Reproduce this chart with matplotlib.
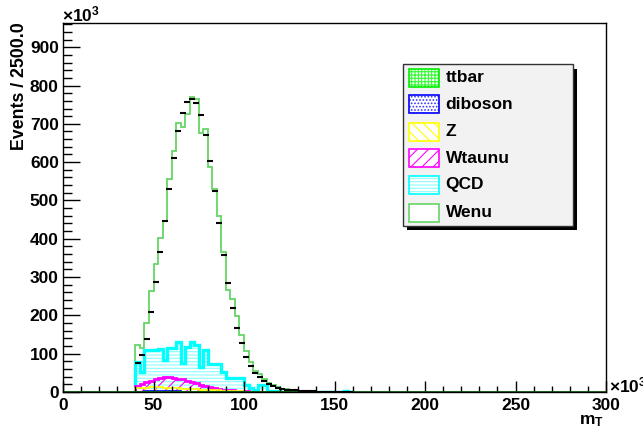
import numpy as np
import matplotlib.pyplot as plt
from matplotlib.patches import Rectangle
from matplotlib.ticker import MultipleLocator

plt.rcParams['font.family'] = ['Liberation Sans', 'DejaVu Sans']
plt.rcParams['font.weight'] = 'bold'
plt.rcParams['mathtext.fontset'] = 'custom'
plt.rcParams['mathtext.rm'] = 'Liberation Sans:bold'
plt.rcParams['mathtext.it'] = 'Liberation Sans:bold'
plt.rcParams['mathtext.bf'] = 'Liberation Sans:bold'
plt.rcParams['hatch.linewidth'] = 0.8

# m_T binning (x10^3), 2.5 wide, 40 -> 160
edges = np.arange(40.0, 160.01, 2.5)

ttbar = [0.8, 0.9, 1.0, 1.0, 1.1, 1.1, 1.1, 1.1, 1.1, 1.0, 1.0, 1.0, 0.9, 0.9, 0.8, 0.8,
         0.7, 0.7, 0.6, 0.6, 0.5, 0.5, 0.4, 0.4, 0.3, 0.3, 0.3, 0.2, 0.2, 0.2, 0.1, 0.1,
         0.1, 0.1, 0, 0, 0, 0, 0, 0, 0, 0, 0, 0, 0, 0, 0, 0]
diboson = [0.3, 0.3, 0.4, 0.4, 0.4, 0.4, 0.4, 0.4, 0.4, 0.4, 0.3, 0.3, 0.3, 0.3, 0.3, 0.2,
           0.2, 0.2, 0.2, 0.2, 0.1, 0.1, 0.1, 0.1, 0.1, 0, 0, 0, 0, 0, 0, 0,
           0, 0, 0, 0, 0, 0, 0, 0, 0, 0, 0, 0, 0, 0, 0, 0]
zjets = [8.9, 9.8, 9.6, 10.6, 10.5, 10.5, 9.5, 9.5, 8.5, 8.6, 7.7, 7.7, 6.8, 5.8, 4.9, 5.0,
         4.1, 3.1, 3.2, 2.2, 2.4, 1.4, 1.5, 1.0, 0.8, 0.7, 0.5, 0.4, 0.3, 0.2, 0.2, 0.1,
         0.1, 0, 0, 0, 0, 0, 0, 0, 0, 0, 0, 0, 0, 0, 0, 0]
wtaunu = [5, 9, 14, 17, 21, 24, 27, 27, 27, 25, 24, 21, 19, 16, 13, 10,
          8, 6, 4, 3, 2, 2, 1, 0.5, 0.3, 0.2, 0.2, 0.2, 0.1, 0.1, 0.1, 0.1,
          0, 0.1, 0.1, 0.1, 0, 0, 0, 0, 0, 0, 0, 0, 0, 0, 0, 0]
qcd = [64, 31, 85, 81, 77, 76, 46, 78, 79, 95, 44, 88, 103, 99, 45, 94,
       59, 62, 64, 45, 31, 32, 33, 34, 16.5, 8.8, 5, 17.2, 17.4, 2.5, 1.6, 1.2,
       0.8, 0.6, 0.5, 0.4, 0.4, 0.3, 0.3, 0.2, 0.2, 0.1, 0.1, 0.1, 0.1, 0.1, 3.0, 0.1]
wenu = [43, 64, 69, 153, 223, 289, 362, 439, 513, 571, 615, 607, 639, 642, 611, 576,
        516, 457, 387, 314, 230, 206, 162, 113, 90, 69, 50, 29, 15, 21, 15, 10.5,
        8, 6.2, 4.4, 3.5, 2.6, 2.2, 1.7, 1.3, 1.0, 0.9, 0.7, 0.5, 0.4, 0.3, 0.3, 0.1]
data = [76, 97, 138, 210, 288, 366, 446, 530, 611, 681, 727, 757, 764, 755, 724, 671,
        603, 524, 440, 357, 284, 218, 166, 127, 92, 68, 50, 38, 29, 21, 16, 11,
        8.5, 6.5, 5, 4, 3, 2.3, 1.8, 1.4, 1.1, 0.8, 0.6, 0.5, 0.4, 0.3, 0.2, 0.2]

names = ['ttbar', 'diboson', 'Z', 'Wtaunu', 'QCD', 'Wenu']
samples = [ttbar, diboson, zjets, wtaunu, qcd, wenu]
line_colors = ['#00ee00', '#0000ff', '#ffff00', '#ff00ff', '#00ffff', '#66d466']
hatch_colors = ['#33ff33', '#3333ff', '#ffff00', '#ff00ff', '#8cffff', '#66d466']
hatches = ['+++++', '.....', '\\\\\\', '///', '-----', None]
line_widths = [1.2, 1.2, 1.2, 2.0, 2.4, 1.3]

fig = plt.figure(figsize=(6.43, 4.32), dpi=100)
W, H = 643.0, 432.0
ax = fig.add_axes([63 / W, 40 / H, 543 / W, 369.3 / H])

# stack: draw cumulative sums, largest first so smaller ones sit on top
cum = np.cumsum(np.array(samples, dtype=float), axis=0)
for i in reversed(range(len(samples))):
    if hatches[i] is None:
        ax.stairs(cum[i], edges, baseline=0, fill=True, facecolor='white',
                  edgecolor='none', zorder=1)
    else:
        ax.stairs(cum[i], edges, baseline=0, fill=True, facecolor='none',
                  edgecolor=hatch_colors[i], hatch=hatches[i], linewidth=0, zorder=1)
    ax.stairs(cum[i], edges, baseline=0, color=line_colors[i],
              linewidth=line_widths[i], zorder=1.5)

ax.axhline(0, color='#0d5f0d', linewidth=2.0, zorder=1.6)

centers = 0.5 * (edges[:-1] + edges[1:])
ax.plot(centers, data, linestyle='none', marker='_', markersize=4.5,
        markeredgewidth=1.5, color='black', zorder=3)

ax.set_xlim(0, 300)
ax.set_ylim(0, 964)
ax.xaxis.set_major_locator(MultipleLocator(50))
ax.xaxis.set_minor_locator(MultipleLocator(10))
ax.yaxis.set_major_locator(MultipleLocator(100))
ax.yaxis.set_minor_locator(MultipleLocator(20))
ax.tick_params(axis='x', which='major', direction='in', length=8, width=1,
               labelsize=12.5, pad=4)
ax.tick_params(axis='x', which='minor', direction='in', length=4.5, width=1)
ax.tick_params(axis='y', which='major', direction='in', length=12.2, width=1,
               labelsize=12.5, pad=3)
ax.tick_params(axis='y', which='minor', direction='in', length=6.5, width=1)
for lab in ax.get_xticklabels() + ax.get_yticklabels():
    lab.set_fontweight('bold')
for sp in ax.spines.values():
    sp.set_linewidth(1.0)

fig.text(62 / W, 1 - 21 / H, '\u00d710$^{3}$', ha='left', va='baseline', fontsize=12.5)
fig.text(609 / W, 1 - 392 / H, '\u00d710$^{3}$', ha='left', va='baseline', fontsize=12.5)
fig.text(20 / W, 1 - 22 / H, 'Events / 2500.0', rotation=90, ha='center', va='top',
         fontsize=12.8)
fig.text(604 / W, 1 - 421 / H, 'm$_{T}$', ha='right', va='center', fontsize=12.5)

# legend box with drop shadow
def fx(px):
    return px / W


def fy(py):
    return 1 - py / H


left, right, top, bottom = 402.7, 572.7, 64.3, 225.7
fig.patches.append(Rectangle((fx(left + 4), fy(bottom + 4.3)), (right - left) / W,
                             (bottom - top) / H, transform=fig.transFigure,
                             facecolor='black', edgecolor='none', zorder=5))
fig.patches.append(Rectangle((fx(left), fy(bottom)), (right - left) / W,
                             (bottom - top) / H, transform=fig.transFigure,
                             facecolor='#f2f2f2', edgecolor='#333333', linewidth=1,
                             zorder=6))
row_y = [77.7, 104.3, 131.7, 158.3, 185.0, 212.7]
for i, name in enumerate(names):
    yc = row_y[i]
    fig.patches.append(Rectangle((fx(409), fy(yc + 9)), 30 / W, 18 / H,
                                 transform=fig.transFigure, facecolor='white',
                                 edgecolor='none', zorder=7))
    if hatches[i] is not None:
        fig.patches.append(Rectangle((fx(409), fy(yc + 9)), 30 / W, 18 / H,
                                     transform=fig.transFigure, facecolor='none',
                                     edgecolor=hatch_colors[i], hatch=hatches[i],
                                     linewidth=0, zorder=7.5))
    fig.patches.append(Rectangle((fx(409), fy(yc + 9)), 30 / W, 18 / H,
                                 transform=fig.transFigure, facecolor='none',
                                 edgecolor=line_colors[i], linewidth=1.2, zorder=8))
    fig.text(fx(445.5), fy(yc), name, ha='left', va='center', fontsize=12.5, zorder=9)

fig.savefig('out.png', dpi=100)
